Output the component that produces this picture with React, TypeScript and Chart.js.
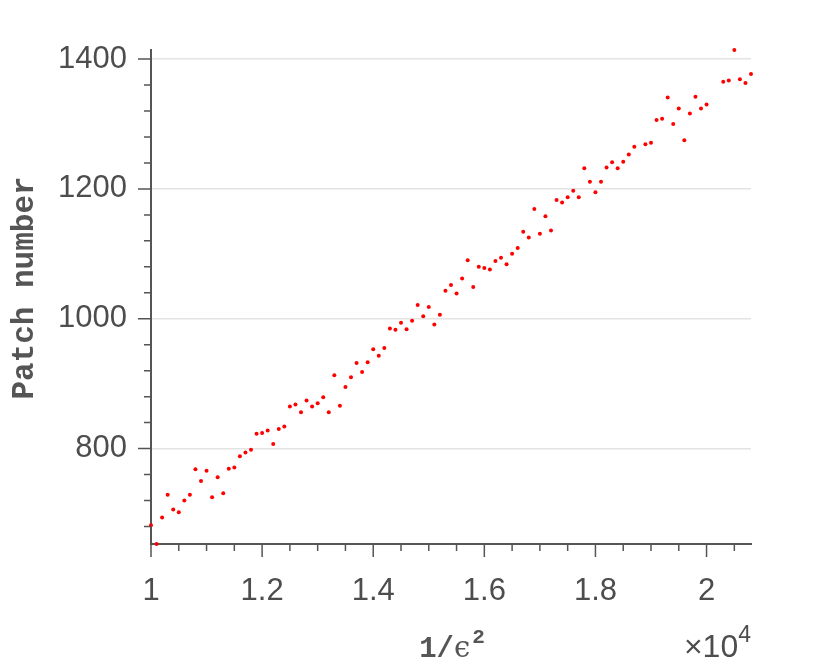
import React, { useEffect, useRef } from 'react';
import { Chart, registerables } from 'chart.js';

Chart.register(...registerables);

// 1/eps^2 values
const X_VALUES = [
  10000, 10100, 10200, 10300, 10400, 10500, 10600, 10700, 10800, 10900,
  11000, 11100, 11200, 11300, 11400, 11500, 11600, 11700, 11800, 11900,
  12000, 12100, 12200, 12300, 12400, 12500, 12600, 12700, 12800, 12900,
  13000, 13100, 13200, 13300, 13400, 13500, 13600, 13700, 13800, 13900,
  14000, 14100, 14200, 14300, 14400, 14500, 14600, 14700, 14800, 14900,
  15000, 15100, 15200, 15300, 15400, 15500, 15600, 15700, 15800, 15900,
  16000, 16100, 16200, 16300, 16400, 16500, 16600, 16700, 16800, 16900,
  17000, 17100, 17200, 17300, 17400, 17500, 17600, 17700, 17800, 17900,
  18000, 18100, 18200, 18300, 18400, 18500, 18600, 18700, 18900,
  19000, 19100, 19200, 19300, 19400, 19500, 19600, 19700, 19800, 19900,
  20000, 20300, 20400, 20500, 20600, 20700, 20800,
];

// Patch numbers
const Y_VALUES = [
  682, 653, 694, 729, 706, 702, 720, 729, 768, 750,
  766, 725, 756, 731, 769, 771, 788, 794, 798, 823,
  824, 828, 807, 830, 834, 865, 868, 856, 874, 865,
  870, 879, 856, 913, 866, 895, 910, 932, 918, 933,
  953, 943, 955, 985, 983, 994, 984, 997, 1021, 1004,
  1018, 991, 1006, 1043, 1052, 1039, 1062, 1090, 1049, 1080,
  1078, 1076, 1089, 1094, 1084, 1100, 1109, 1134, 1125, 1169,
  1131, 1158, 1136, 1183, 1179, 1187, 1197, 1187, 1232, 1211,
  1195, 1211, 1233, 1241, 1232, 1242, 1253, 1265, 1269,
  1271, 1306, 1308, 1341, 1300, 1324, 1275, 1316, 1342, 1324,
  1330, 1365, 1367, 1414, 1369, 1363, 1377,
];

const X_MAJOR_TICKS = [10000, 12000, 14000, 16000, 18000, 20000];
const X_MINOR_TICKS = [
  10500, 11000, 11500, 12500, 13000, 13500, 14500, 15000, 15500,
  16500, 17000, 17500, 18500, 19000, 19500, 20500,
];
const Y_MAJOR_TICKS = [800, 1000, 1200, 1400];
const Y_MINOR_TICKS = [
  680, 720, 760, 840, 880, 920, 960, 1040, 1080, 1120, 1160,
  1240, 1280, 1320, 1360,
];

const X_SCALE_FACTOR = 10000;
const Y_TITLE = 'Patch number';
const X_TITLE_PARTS = ['1/', 'ϵ', '2'];
const X_EXPONENT_PARTS = ['×10', '4'];

const AXIS_COLOR = '#555555';
const TEXT_COLOR = '#4d4d4d';
const POINT_COLOR = '#ff0000';

const decorPlugin = {
  id: 'decor',
  afterDraw(chart: any) {
    const { ctx, chartArea: area } = chart;
    const xs = chart.scales.x;
    const ys = chart.scales.y;
    ctx.save();
    ctx.strokeStyle = AXIS_COLOR;
    ctx.lineWidth = 1.5;
    ctx.beginPath();
    X_MAJOR_TICKS.forEach((v) => {
      const p = xs.getPixelForValue(v);
      ctx.moveTo(p, area.bottom);
      ctx.lineTo(p, area.bottom + 13);
    });
    X_MINOR_TICKS.forEach((v) => {
      const p = xs.getPixelForValue(v);
      ctx.moveTo(p, area.bottom);
      ctx.lineTo(p, area.bottom + 7);
    });
    Y_MAJOR_TICKS.forEach((v) => {
      const p = ys.getPixelForValue(v);
      ctx.moveTo(area.left, p);
      ctx.lineTo(area.left - 13, p);
    });
    Y_MINOR_TICKS.forEach((v) => {
      const p = ys.getPixelForValue(v);
      ctx.moveTo(area.left, p);
      ctx.lineTo(area.left - 7, p);
    });
    ctx.stroke();

    // Y title
    ctx.fillStyle = AXIS_COLOR;
    ctx.save();
    ctx.translate(33, (area.top + area.bottom) / 2 - 9);
    ctx.rotate(-Math.PI / 2);
    ctx.font = 'bold 31px "Liberation Mono", "DejaVu Sans Mono", monospace';
    ctx.textAlign = 'center';
    ctx.textBaseline = 'alphabetic';
    ctx.fillText(Y_TITLE, 0, 0);
    ctx.restore();

    // X title 1/eps^2
    const baseY = 657;
    const f1 = 'bold 29px "Liberation Mono", "DejaVu Sans Mono", monospace';
    const f2 = '29px "DejaVu Serif", serif';
    const f3 = 'bold 21px "Liberation Mono", "DejaVu Sans Mono", monospace';
    ctx.textAlign = 'left';
    ctx.textBaseline = 'alphabetic';
    ctx.font = f1;
    const w1 = ctx.measureText(X_TITLE_PARTS[0]).width;
    ctx.font = f2;
    const w2 = ctx.measureText(X_TITLE_PARTS[1]).width;
    ctx.font = f3;
    const w3 = ctx.measureText(X_TITLE_PARTS[2]).width;
    const total = w1 + w2 + w3 + 2;
    let tx = (area.left + area.right) / 2 + 1 - total / 2;
    ctx.font = f1;
    ctx.fillText(X_TITLE_PARTS[0], tx, baseY);
    tx += w1;
    ctx.font = f2;
    ctx.fillText(X_TITLE_PARTS[1], tx, baseY);
    tx += w2 + 2;
    ctx.font = f3;
    ctx.fillText(X_TITLE_PARTS[2], tx, baseY - 14);

    // exponent x10^4
    const g1 = '32px "Liberation Sans", Arial, sans-serif';
    const g2 = '23px "Liberation Sans", Arial, sans-serif';
    ctx.font = g1;
    const e1 = ctx.measureText(X_EXPONENT_PARTS[0]).width;
    ctx.font = g2;
    const e2 = ctx.measureText(X_EXPONENT_PARTS[1]).width;
    let ex = area.right - e1 - e2;
    ctx.fillStyle = TEXT_COLOR;
    ctx.font = g1;
    ctx.fillText(X_EXPONENT_PARTS[0], ex, baseY);
    ex += e1;
    ctx.font = g2;
    ctx.fillText(X_EXPONENT_PARTS[1], ex, baseY - 15);
    ctx.restore();
  },
};

export default function App() {
  const canvasRef = useRef<HTMLCanvasElement | null>(null);

  useEffect(() => {
    const canvas = canvasRef.current;
    if (!canvas) return;
    const points = X_VALUES.map((x, i) => ({ x, y: Y_VALUES[i] }));
    const tickFont = { family: '"Liberation Sans", Arial, sans-serif', size: 31 };
    const chart = new Chart(canvas, {
      type: 'scatter',
      data: {
        datasets: [
          {
            data: points,
            pointRadius: 2,
            pointHoverRadius: 2,
            pointBackgroundColor: POINT_COLOR,
            pointBorderWidth: 0,
            borderColor: POINT_COLOR,
            clip: false,
          } as any,
        ],
      },
      options: {
        animation: false,
        responsive: false,
        events: [],
        layout: { padding: { top: 50, right: 79, bottom: 0, left: 0 } },
        plugins: { legend: { display: false }, tooltip: { enabled: false } },
        scales: {
          x: {
            type: 'linear',
            min: Math.min(...X_VALUES),
            max: Math.max(...X_VALUES),
            afterBuildTicks: (scale: any) => {
              scale.ticks = X_MAJOR_TICKS.map((value) => ({ value }));
            },
            afterFit: (scale: any) => {
              scale.height = 123;
            },
            grid: { display: true, color: 'rgba(0,0,0,0)', drawTicks: false },
            border: { display: true, color: AXIS_COLOR, width: 2 },
            ticks: {
              font: tickFont,
              color: TEXT_COLOR,
              padding: 29,
              maxRotation: 0,
              autoSkip: false,
              callback: (v: any) => String(Number(v) / X_SCALE_FACTOR),
            },
          },
          y: {
            type: 'linear',
            min: Math.min(...Y_VALUES),
            max: Math.max(...Y_VALUES),
            afterBuildTicks: (scale: any) => {
              scale.ticks = Y_MAJOR_TICKS.map((value) => ({ value }));
            },
            afterFit: (scale: any) => {
              scale.width = 151;
            },
            grid: { display: true, color: '#e3e3e3', lineWidth: 1.5, drawTicks: false },
            border: { display: true, color: AXIS_COLOR, width: 2 },
            ticks: {
              font: tickFont,
              color: TEXT_COLOR,
              padding: 24,
              autoSkip: false,
              callback: (v: any) => String(v),
            },
          },
        },
      },
      plugins: [decorPlugin],
    });
    return () => chart.destroy();
  }, []);

  return (
    <div style={{ position: 'absolute', left: 0, top: 0, width: 830, height: 667, background: '#fff' }}>
      <canvas ref={canvasRef} width={830} height={667} style={{ width: 830, height: 667, display: 'block' }} />
    </div>
  );
}
